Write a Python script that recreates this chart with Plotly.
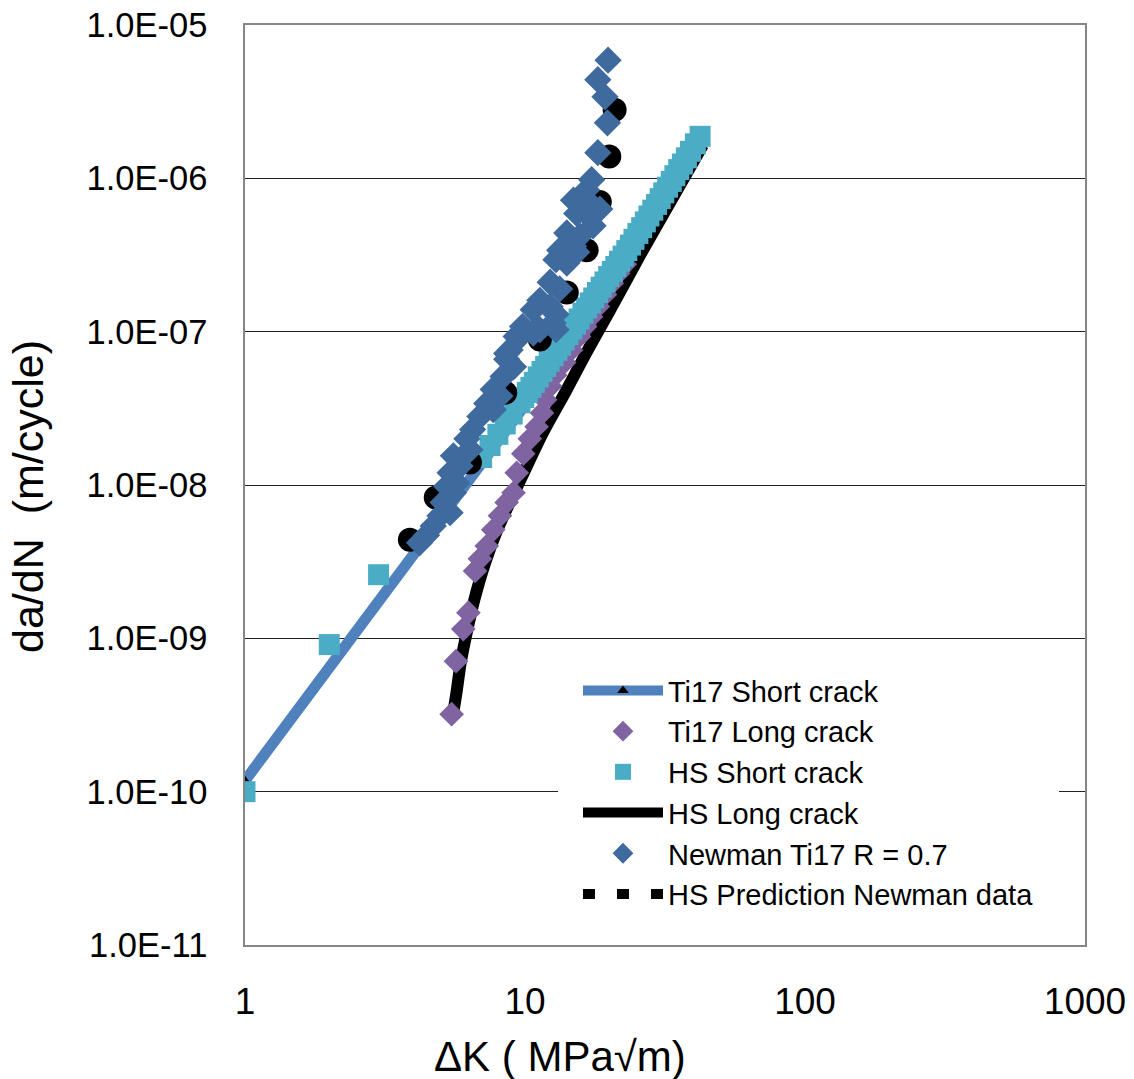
import plotly.graph_objects as go

# ---------------- data ----------------
ti17_short_x = [1.0, 11.0]
ti17_short_y = [1.18e-10, 4.2e-8]

ti17_long_x = [5.47, 5.67, 6.02, 6.28, 6.63, 6.9, 7.3, 7.7, 8.14, 8.6, 9.1, 9.34, 9.86,
               10.4, 11.0, 11.5, 11.8, 12.3, 12.8, 13.8, 14.6, 15.6, 16.4, 17.2, 18.2,
               19.3, 20.4, 21.5, 22.7]
ti17_long_y = [3.2e-10, 7.1e-10, 1.15e-9, 1.47e-9, 2.75e-9, 3.3e-9, 4.0e-9, 5.1e-9, 6.3e-9,
               7.7e-9, 8.9e-9, 1.2e-8, 1.6e-8, 2.0e-8, 2.4e-8, 2.95e-8, 3.6e-8, 4.4e-8,
               5.2e-8, 6.3e-8, 7.6e-8, 9.3e-8, 1.08e-7, 1.25e-7, 1.46e-7, 1.75e-7, 2.07e-7,
               2.4e-7, 2.75e-7]

hs_short_x = [1.0, 2.0, 3.0, 7.0, 7.5, 8.0, 8.5, 9.0, 9.6, 9.9, 10.2, 10.5, 10.8, 11.15,
              11.5, 11.85, 12.2, 12.6, 13.0, 13.4, 13.8, 14.25, 14.7, 15.15, 15.6, 16.1,
              16.6, 17.1, 17.6, 18.15, 18.7, 19.3, 19.9, 20.5, 21.1, 21.75, 22.4, 23.1,
              23.8, 24.5, 25.3, 26.1, 26.9, 27.7, 28.6, 29.5, 30.4, 31.3, 32.3, 33.3,
              34.3, 35.4, 36.5, 37.7, 39.0, 40.6, 42.2]
hs_short_y = [1.0e-10, 9.1e-10, 2.6e-9, 1.51e-8, 1.81e-8, 2.14e-8, 2.5e-8, 2.9e-8, 3.44e-8,
              3.72e-8, 4.02e-8, 4.33e-8, 4.67e-8, 5.07e-8, 5.5e-8, 5.94e-8, 6.41e-8,
              6.96e-8, 7.56e-8, 8.17e-8, 8.83e-8, 9.58e-8, 1.04e-7, 1.12e-7, 1.21e-7,
              1.32e-7, 1.43e-7, 1.54e-7, 1.66e-7, 1.8e-7, 1.95e-7, 2.11e-7, 2.29e-7,
              2.47e-7, 2.66e-7, 2.88e-7, 3.11e-7, 3.38e-7, 3.67e-7, 4.0e-7, 4.37e-7,
              4.77e-7, 5.2e-7, 5.68e-7, 6.2e-7, 6.76e-7, 7.37e-7, 8.04e-7, 8.76e-7,
              9.55e-7, 1.04e-6, 1.14e-6, 1.24e-6, 1.36e-6, 1.5e-6, 1.68e-6, 1.88e-6]

hs_long_x = [5.55, 5.7, 5.9, 6.2, 6.6, 7.2, 8.0, 9.0, 10.0, 11.6, 14.0, 16.5, 20.0, 26.0,
             35.5, 43.2]
hs_long_y = [3.3e-10, 4.5e-10, 7.0e-10, 1.1e-9, 1.8e-9, 3.1e-9, 5.2e-9, 8.3e-9, 1.25e-8,
             2.2e-8, 4.1e-8, 7.2e-8, 1.35e-7, 3.25e-7, 8.8e-7, 1.65e-6]

newman_x = [4.2, 4.45, 4.7, 4.97, 5.1, 5.4, 5.55, 5.25, 5.7, 5.4, 5.86, 5.55, 6.36, 6.2,
            6.5, 6.9, 7.7, 7.3, 8.14, 7.7, 8.35, 9.1, 8.6, 8.85, 9.6, 10.7, 8.6, 9.3,
            9.8, 11.3, 10.7, 12.9, 12.6, 11.3, 12.3, 13.3, 12.3, 14.1, 12.9, 15.3,
            13.3, 14.9, 15.7, 14.1, 17.5, 17.0, 15.3, 18.5, 17.0, 14.9, 16.6, 17.3,
            18.2, 19.7, 19.3, 18.2, 19.8, 12.9]
newman_y = [4.2e-9, 4.7e-9, 5.4e-9, 6.3e-9, 7.7e-9, 6.6e-9, 8.9e-9, 9.8e-9, 1.03e-8,
            1.2e-8, 1.33e-8, 1.55e-8, 1.7e-8, 2.0e-8, 2.3e-8, 2.8e-8, 3.1e-8, 3.4e-8,
            3.8e-8, 4.2e-8, 5.1e-8, 5.9e-8, 6.6e-8, 7.6e-8, 9.3e-8, 9.8e-8, 7.2e-8,
            9.3e-8, 1.08e-7, 1.03e-7, 1.39e-7, 1.3e-7, 1.14e-7, 1.6e-7, 1.46e-7,
            1.9e-7, 2.1e-7, 2.8e-7, 2.95e-7, 3.3e-7, 3.4e-7, 3.6e-7, 4.2e-7, 4.4e-7,
            4.9e-7, 5.6e-7, 5.9e-7, 6.3e-7, 6.9e-7, 7.2e-7, 8.4e-7, 9.8e-7, 1.47e-6,
            2.3e-6, 3.4e-6, 4.4e-6, 5.9e-6, 1.03e-7]

hs_pred_x = [3.88, 4.8, 6.36, 8.5, 11.3, 14.1, 16.6, 18.5, 20.0, 20.9]
hs_pred_y = [4.4e-9, 8.3e-9, 1.4e-8, 4.0e-8, 8.9e-8, 1.8e-7, 3.4e-7, 7.0e-7, 1.39e-6, 2.8e-6]

y_tick_vals = [1e-11, 1e-10, 1e-9, 1e-8, 1e-7, 1e-6, 1e-5]
y_tick_text = ["1.0E-11", "1.0E-10", "1.0E-09", "1.0E-08", "1.0E-07", "1.0E-06", "1.0E-05"]
x_tick_vals = [1, 10, 100, 1000]
x_tick_text = ["1", "10", "100", "1000"]

x_title = "ΔK ( MPa√m)"
y_title = "da/dN \u00a0(m/cycle)"

# ---------------- colours ----------------
C_BLUE = "#4F81BD"
C_PURPLE = "#8064A2"
C_CYAN = "#4BACC6"
C_NEWMAN = "#3E6A9E"

FONT = "Arial, 'Liberation Sans', sans-serif"

fig = go.Figure()

# draw order (bottom to top)
fig.add_trace(go.Scatter(x=hs_long_x, y=hs_long_y, mode="lines", name="HS Long crack",
                         line=dict(color="black", width=12, shape="spline", smoothing=0.8),
                         legendrank=4))
fig.add_trace(go.Scatter(x=ti17_short_x, y=ti17_short_y, mode="lines+markers",
                         name="Ti17 Short crack",
                         line=dict(color=C_BLUE, width=11),
                         marker=dict(symbol="triangle-up", color="black", size=10),
                         legendrank=1))
fig.add_trace(go.Scatter(x=ti17_long_x, y=ti17_long_y, mode="markers", name="Ti17 Long crack",
                         marker=dict(symbol="diamond", color=C_PURPLE, size=19),
                         legendrank=2))
fig.add_trace(go.Scatter(x=hs_short_x, y=hs_short_y, mode="markers", name="HS Short crack",
                         marker=dict(symbol="square", color=C_CYAN, size=21),
                         legendrank=3))
fig.add_trace(go.Scatter(x=hs_pred_x, y=hs_pred_y, mode="markers",
                         name="HS Prediction Newman data",
                         marker=dict(symbol="circle", color="black", size=24),
                         showlegend=False))
fig.add_trace(go.Scatter(x=newman_x, y=newman_y, mode="markers", name="Newman Ti17 R = 0.7",
                         marker=dict(symbol="diamond", color=C_NEWMAN, size=21),
                         legendrank=5))
# legend entry for the round-dot prediction series
fig.add_trace(go.Scatter(x=[None], y=[None], mode="lines", name="HS Prediction Newman data",
                         line=dict(color="black", width=10, dash="12px,22px"),
                         legendrank=6, hoverinfo="skip"))

fig.update_layout(
    width=1134, height=1079,
    margin=dict(l=245, r=49, t=25, b=134),
    paper_bgcolor="white", plot_bgcolor="white",
    font=dict(family=FONT, color="black"),
    showlegend=True,
    legend=dict(x=0.3726, y=0.326, xanchor="left", yanchor="top",
                bgcolor="white", bordercolor="white", borderwidth=20,
                font=dict(size=29, family=FONT, color="black"),
                itemwidth=80, tracegroupgap=0),
    xaxis=dict(type="log", range=[0, 3], tickvals=x_tick_vals, ticktext=x_tick_text,
               showgrid=False, zeroline=False, automargin=False,
               showline=True, linecolor="#868686", linewidth=1.5, mirror=True,
               ticks="", tickfont=dict(size=37, family=FONT, color="black"),
               ticklabelstandoff=23),
    yaxis=dict(type="log", range=[-11, -5], tickvals=y_tick_vals, ticktext=y_tick_text,
               showgrid=True, gridcolor="#222222", gridwidth=1, zeroline=False,
               automargin=False,
               showline=True, linecolor="#868686", linewidth=1.5, mirror=True,
               ticks="", tickfont=dict(size=34.5, family=FONT, color="black"),
               ticklabelstandoff=29),
    annotations=[
        dict(text=x_title, xref="paper", yref="paper", x=0.375, y=-0.1217,
             xanchor="center", yanchor="middle", showarrow=False,
             font=dict(size=42, family=FONT, color="black")),
        dict(text=y_title, xref="paper", yref="paper", x=-0.2583, y=0.487,
             xanchor="center", yanchor="middle", showarrow=False, textangle=-90,
             font=dict(size=43, family=FONT, color="black")),
    ],
)

fig.write_html("out.html")
